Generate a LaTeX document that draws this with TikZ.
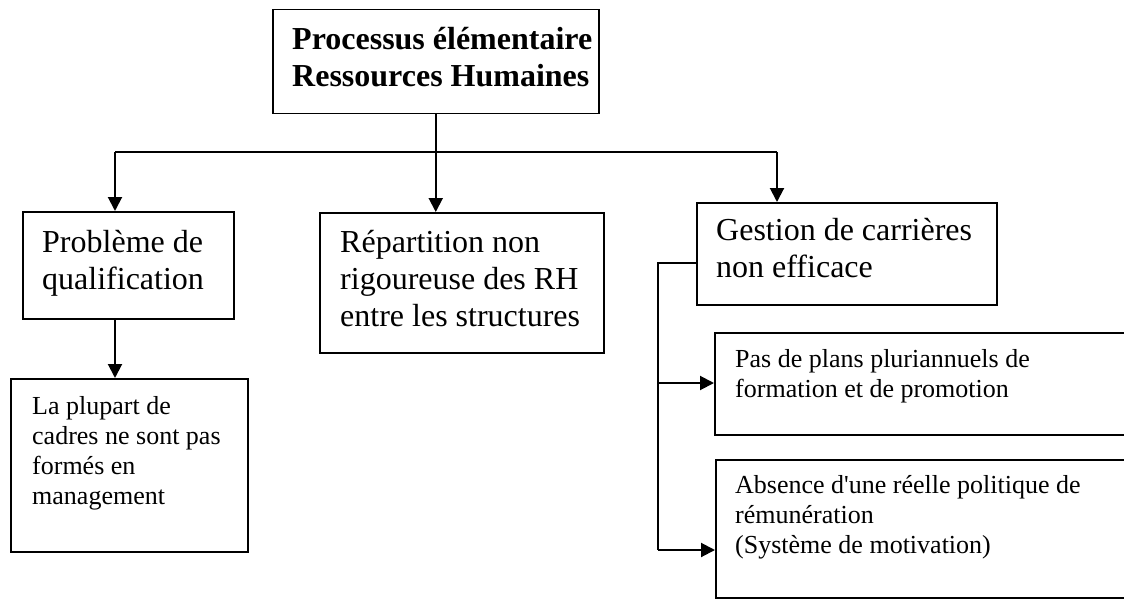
\documentclass[tikz,border=0pt]{standalone}
\usepackage{fontspec}
\setmainfont{Liberation Serif}
\usetikzlibrary{arrows.meta}
\newcommand{\mlines}[1]{\begin{tabular}[t]{@{}l@{}}#1\end{tabular}}
\tikzset{
  box/.style={draw, line width=1.5pt, rectangle, anchor=north west, inner sep=0pt},
  big/.style={anchor=base west, inner sep=0pt, font=\fontsize{32}{37}\selectfont},
  bigb/.style={anchor=base west, inner sep=0pt, font=\fontsize{32}{37}\selectfont\bfseries},
  small/.style={anchor=base west, inner sep=0pt, font=\fontsize{26}{30}\selectfont},
  link/.style={line width=1.5pt},
  arr/.style={line width=2pt, -{Triangle[length=14pt,width=14pt]}}
}
\begin{document}
\begin{tikzpicture}[x=1pt, y=-1pt]
  \useasboundingbox (0,0) rectangle (1124,599);
  \clip (0,0) rectangle (1124,599);

  % boxes
  \node[box, minimum width=326pt, minimum height=104pt] (top) at (272,9) {};
  \node[box, minimum width=211pt, minimum height=107pt] (qual) at (22,211) {};
  \node[box, minimum width=237pt, minimum height=173pt] (cadres) at (10,378) {};
  \node[box, minimum width=284pt, minimum height=140pt] (rep) at (319,212) {};
  \node[box, minimum width=300pt, minimum height=102pt] (gest) at (696,202) {};
  \node[box, minimum width=430pt, minimum height=102pt] (plans) at (714,332) {};
  \node[box, minimum width=430pt, minimum height=138pt] (remu) at (715,459) {};

  % texts
  \node[bigb] (ttop) at (292,50) {\mlines{Processus élémentaire\\Ressources Humaines}};
  \node[big] (tqual) at (42,252) {\mlines{Problème de\\qualification}};
  \node[small] (tcadres) at (32,414) {\mlines{La plupart de\\cadres ne sont pas\\formés en\\management}};
  \node[big] (trep) at (340,252) {\mlines{Répartition non\\rigoureuse des RH\\entre les structures}};
  \node[big] (tgest) at (716,240) {\mlines{Gestion de carrières\\non efficace}};
  \node[small] (tplans) at (735,367) {\mlines{Pas de plans pluriannuels de\\formation et de promotion}};
  \node[small] (tremu) at (735,493) {\mlines{Absence d\textquotesingle une réelle politique de\\rémunération\\(Système de motivation)}};

  % connectors
  \coordinate (hl) at (115,152);
  \coordinate (hr) at (777,152);
  \coordinate (hm) at (top.south |- hl);
  \draw[link] (hl) -- (hr);
  \draw[link] (top.south) -- (hm);
  \draw[arr] (hl) -- (qual.north -| hl);
  \draw[arr] (hm) -- (rep.north -| hm);
  \draw[arr] (hr) -- (gest.north -| hr);
  \draw[arr] (qual.south -| hl) -- (cadres.north -| hl);

  \coordinate (bx) at (658,263);
  \coordinate (b1) at (658,383);
  \coordinate (b2) at (658,550);
  \draw[link] (gest.west |- bx) -- (bx) -- (b2);
  \draw[arr] (b1) -- (plans.west |- b1);
  \draw[arr] (b2) -- (remu.west |- b2);
\end{tikzpicture}
\end{document}
